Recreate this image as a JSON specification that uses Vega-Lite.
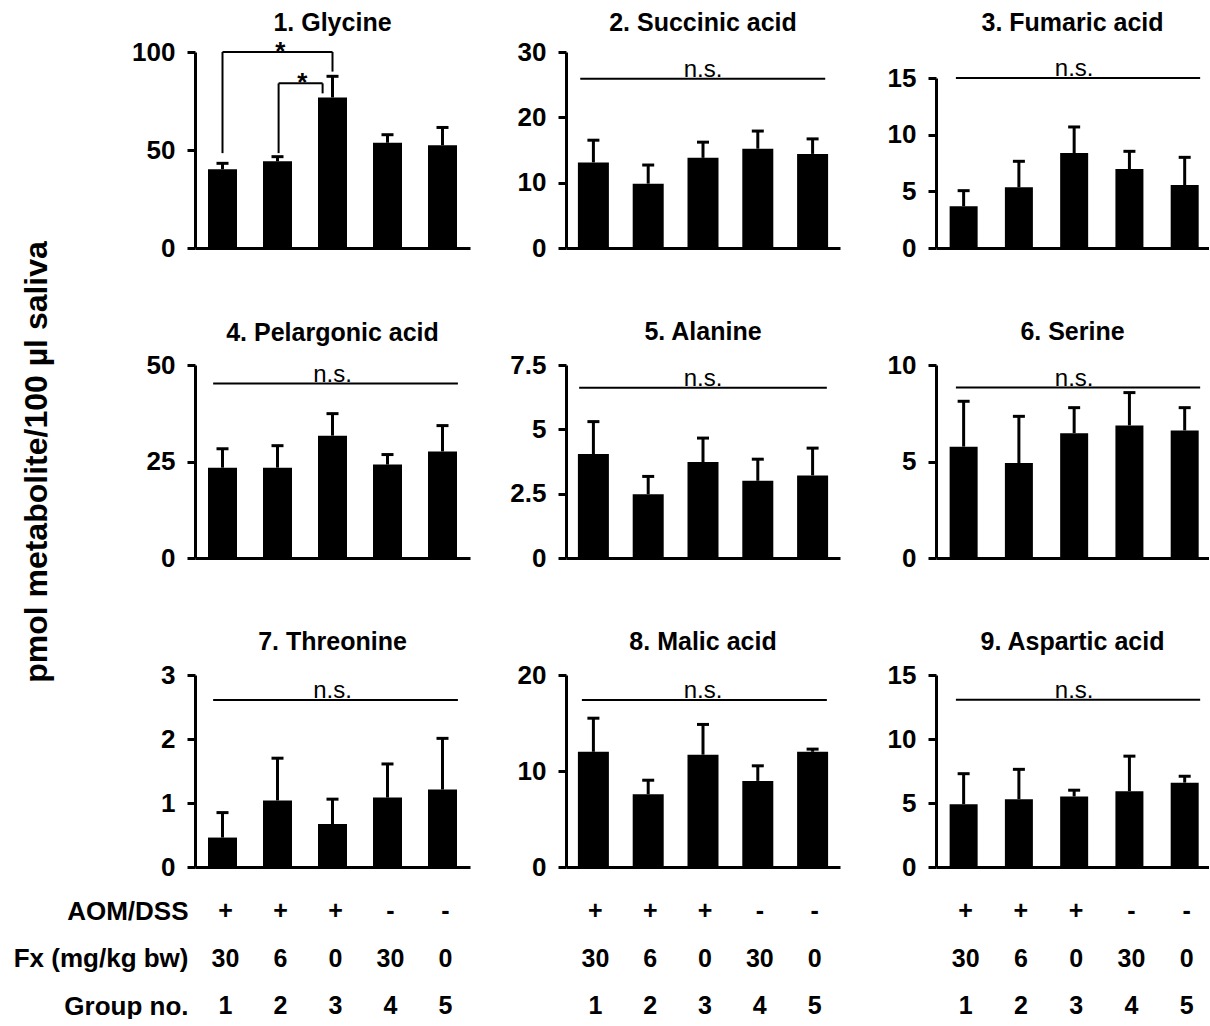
{
"$schema":"https://vega.github.io/schema/vega-lite/v6.json",
"background":"white",
"padding":{"left":13,"top":11,"right":0,"bottom":0},
"autosize":{"type":"pad"},
"datasets":{
"bars":[
{"panel":1,"group":1,"mean":40.2,"upper":43.2},{"panel":1,"group":2,"mean":44.2,"upper":46.6},{"panel":1,"group":3,"mean":76.8,"upper":87.6},{"panel":1,"group":4,"mean":53.7,"upper":57.8},{"panel":1,"group":5,"mean":52.4,"upper":61.5},
{"panel":2,"group":1,"mean":13.1,"upper":16.5},{"panel":2,"group":2,"mean":9.85,"upper":12.7},{"panel":2,"group":3,"mean":13.8,"upper":16.2},{"panel":2,"group":4,"mean":15.2,"upper":17.9},{"panel":2,"group":5,"mean":14.4,"upper":16.7},
{"panel":3,"group":1,"mean":3.68,"upper":5.06},{"panel":3,"group":2,"mean":5.35,"upper":7.65},{"panel":3,"group":3,"mean":8.38,"upper":10.68},{"panel":3,"group":4,"mean":6.97,"upper":8.53},{"panel":3,"group":5,"mean":5.56,"upper":8.0},
{"panel":4,"group":1,"mean":23.4,"upper":28.3},{"panel":4,"group":2,"mean":23.4,"upper":29.1},{"panel":4,"group":3,"mean":31.7,"upper":37.4},{"panel":4,"group":4,"mean":24.2,"upper":26.8},{"panel":4,"group":5,"mean":27.6,"upper":34.3},
{"panel":5,"group":1,"mean":4.04,"upper":5.3},{"panel":5,"group":2,"mean":2.48,"upper":3.17},{"panel":5,"group":3,"mean":3.73,"upper":4.66},{"panel":5,"group":4,"mean":3.0,"upper":3.84},{"panel":5,"group":5,"mean":3.21,"upper":4.27},
{"panel":6,"group":1,"mean":5.77,"upper":8.12},{"panel":6,"group":2,"mean":4.92,"upper":7.34},{"panel":6,"group":3,"mean":6.47,"upper":7.79},{"panel":6,"group":4,"mean":6.87,"upper":8.57},{"panel":6,"group":5,"mean":6.61,"upper":7.79},
{"panel":7,"group":1,"mean":0.46,"upper":0.85},{"panel":7,"group":2,"mean":1.04,"upper":1.7},{"panel":7,"group":3,"mean":0.67,"upper":1.06},{"panel":7,"group":4,"mean":1.085,"upper":1.61},{"panel":7,"group":5,"mean":1.21,"upper":2.01},
{"panel":8,"group":1,"mean":12.0,"upper":15.5},{"panel":8,"group":2,"mean":7.58,"upper":9.04},{"panel":8,"group":3,"mean":11.7,"upper":14.85},{"panel":8,"group":4,"mean":8.97,"upper":10.54},{"panel":8,"group":5,"mean":12.0,"upper":12.28},
{"panel":9,"group":1,"mean":4.91,"upper":7.29},{"panel":9,"group":2,"mean":5.3,"upper":7.63},{"panel":9,"group":3,"mean":5.51,"upper":6.0},{"panel":9,"group":4,"mean":5.92,"upper":8.66},{"panel":9,"group":5,"mean":6.59,"upper":7.09}
],
"lines":[
{"panel":1,"x1":1,"x2":3,"y1":100,"y2":100},
{"panel":1,"x1":1,"x2":1,"y1":48.4,"y2":100},
{"panel":1,"x1":3,"x2":3,"y1":90,"y2":100},
{"panel":1,"x1":2.02,"x2":2.82,"y1":84,"y2":84},
{"panel":1,"x1":2.02,"x2":2.02,"y1":48.4,"y2":84},
{"panel":1,"x1":2.82,"x2":2.82,"y1":78.9,"y2":84},
{"panel":2,"x1":0.76,"x2":5.23,"y1":25.9,"y2":25.9},
{"panel":3,"x1":0.86,"x2":5.28,"y1":15,"y2":15},
{"panel":4,"x1":0.83,"x2":5.28,"y1":45.2,"y2":45.2},
{"panel":5,"x1":0.74,"x2":5.26,"y1":6.62,"y2":6.62},
{"panel":6,"x1":0.86,"x2":5.28,"y1":8.83,"y2":8.83},
{"panel":7,"x1":0.83,"x2":5.28,"y1":2.61,"y2":2.61},
{"panel":8,"x1":0.79,"x2":5.26,"y1":17.4,"y2":17.4},
{"panel":9,"x1":0.86,"x2":5.28,"y1":13.06,"y2":13.06}
],
"labels":[
{"panel":1,"x":2.05,"y":100,"text":"*"},
{"panel":1,"x":2.45,"y":84,"text":"*"},
{"panel":2,"x":3,"y":25.9,"text":"n.s."},
{"panel":3,"x":3,"y":15,"text":"n.s."},
{"panel":4,"x":3,"y":45.2,"text":"n.s."},
{"panel":5,"x":3,"y":6.62,"text":"n.s."},
{"panel":6,"x":3,"y":8.83,"text":"n.s."},
{"panel":7,"x":3,"y":2.61,"text":"n.s."},
{"panel":8,"x":3,"y":17.4,"text":"n.s."},
{"panel":9,"x":3,"y":13.06,"text":"n.s."}
],
"conds":[
{"row":"AOM/DSS","group":1,"text":"+"},{"row":"AOM/DSS","group":2,"text":"+"},{"row":"AOM/DSS","group":3,"text":"+"},{"row":"AOM/DSS","group":4,"text":"-"},{"row":"AOM/DSS","group":5,"text":"-"},
{"row":"Fx (mg/kg bw)","group":1,"text":"30"},{"row":"Fx (mg/kg bw)","group":2,"text":"6"},{"row":"Fx (mg/kg bw)","group":3,"text":"0"},{"row":"Fx (mg/kg bw)","group":4,"text":"30"},{"row":"Fx (mg/kg bw)","group":5,"text":"0"},
{"row":"Group no.","group":1,"text":"1"},{"row":"Group no.","group":2,"text":"2"},{"row":"Group no.","group":3,"text":"3"},{"row":"Group no.","group":4,"text":"4"},{"row":"Group no.","group":5,"text":"5"}
]
},
"columns":3,
"spacing":{"row":117,"column":96},
"bounds":"flush",
"align":"each",
"concat":[
{"width":275,"height":196,"title":{"text":"1. Glycine","offset":3},"layer":[
{"data":{"name":"bars"},"transform":[{"filter":"datum.panel == 1"}],"mark":{"type":"bar","width":29,"color":"black"},"encoding":{"x":{"field":"group","type":"quantitative","scale":{"domain":[0.5,5.5],"nice":false,"zero":false,"padding":0},"axis":{"title":null,"labels":false,"ticks":false}},"y":{"field":"mean","type":"quantitative","scale":{"domain":[0,100],"nice":false},"axis":{"title":null,"values":[0,50,100],"format":".3~r"}}}},
{"data":{"name":"bars"},"transform":[{"filter":"datum.panel == 1"}],"mark":{"type":"rule","strokeWidth":3,"color":"black"},"encoding":{"x":{"field":"group","type":"quantitative","scale":{"domain":[0.5,5.5],"nice":false,"zero":false,"padding":0},"axis":{"title":null,"labels":false,"ticks":false}},"y":{"field":"mean","type":"quantitative","scale":{"domain":[0,100],"nice":false},"axis":{"title":null,"values":[0,50,100],"format":".3~r"}},"y2":{"field":"upper"}}},
{"data":{"name":"bars"},"transform":[{"filter":"datum.panel == 1"}],"mark":{"type":"tick","orient":"horizontal","size":12,"thickness":3,"color":"black","opacity":1},"encoding":{"x":{"field":"group","type":"quantitative","scale":{"domain":[0.5,5.5],"nice":false,"zero":false,"padding":0},"axis":{"title":null,"labels":false,"ticks":false}},"y":{"field":"upper","type":"quantitative","scale":{"domain":[0,100],"nice":false},"axis":{"title":null,"values":[0,50,100],"format":".3~r"}}}},
{"data":{"name":"lines"},"transform":[{"filter":"datum.panel == 1"}],"mark":{"type":"rule","strokeWidth":2,"color":"black"},"encoding":{"x":{"field":"x1","type":"quantitative","scale":{"domain":[0.5,5.5],"nice":false,"zero":false,"padding":0},"axis":{"title":null,"labels":false,"ticks":false}},"x2":{"field":"x2"},"y":{"field":"y1","type":"quantitative","scale":{"domain":[0,100],"nice":false},"axis":{"title":null,"values":[0,50,100],"format":".3~r"}},"y2":{"field":"y2"}}},
{"data":{"name":"labels"},"transform":[{"filter":"datum.panel == 1"}],"mark":{"type":"text","fontSize":26,"fontWeight":"bold","baseline":"middle"},"encoding":{"x":{"field":"x","type":"quantitative","scale":{"domain":[0.5,5.5],"nice":false,"zero":false,"padding":0},"axis":{"title":null,"labels":false,"ticks":false}},"y":{"field":"y","type":"quantitative","scale":{"domain":[0,100],"nice":false},"axis":{"title":null,"values":[0,50,100],"format":".3~r"}},"text":{"field":"text"}}}
]},
{"width":274,"height":196,"title":{"text":"2. Succinic acid","offset":3},"layer":[
{"data":{"name":"bars"},"transform":[{"filter":"datum.panel == 2"}],"mark":{"type":"bar","width":31,"color":"black"},"encoding":{"x":{"field":"group","type":"quantitative","scale":{"domain":[0.5,5.5],"nice":false,"zero":false,"padding":0},"axis":{"title":null,"labels":false,"ticks":false}},"y":{"field":"mean","type":"quantitative","scale":{"domain":[0,30],"nice":false},"axis":{"title":null,"values":[0,10,20,30],"format":".3~r"}}}},
{"data":{"name":"bars"},"transform":[{"filter":"datum.panel == 2"}],"mark":{"type":"rule","strokeWidth":3,"color":"black"},"encoding":{"x":{"field":"group","type":"quantitative","scale":{"domain":[0.5,5.5],"nice":false,"zero":false,"padding":0},"axis":{"title":null,"labels":false,"ticks":false}},"y":{"field":"mean","type":"quantitative","scale":{"domain":[0,30],"nice":false},"axis":{"title":null,"values":[0,10,20,30],"format":".3~r"}},"y2":{"field":"upper"}}},
{"data":{"name":"bars"},"transform":[{"filter":"datum.panel == 2"}],"mark":{"type":"tick","orient":"horizontal","size":12,"thickness":3,"color":"black","opacity":1},"encoding":{"x":{"field":"group","type":"quantitative","scale":{"domain":[0.5,5.5],"nice":false,"zero":false,"padding":0},"axis":{"title":null,"labels":false,"ticks":false}},"y":{"field":"upper","type":"quantitative","scale":{"domain":[0,30],"nice":false},"axis":{"title":null,"values":[0,10,20,30],"format":".3~r"}}}},
{"data":{"name":"lines"},"transform":[{"filter":"datum.panel == 2"}],"mark":{"type":"rule","strokeWidth":2,"color":"black"},"encoding":{"x":{"field":"x1","type":"quantitative","scale":{"domain":[0.5,5.5],"nice":false,"zero":false,"padding":0},"axis":{"title":null,"labels":false,"ticks":false}},"x2":{"field":"x2"},"y":{"field":"y1","type":"quantitative","scale":{"domain":[0,30],"nice":false},"axis":{"title":null,"values":[0,10,20,30],"format":".3~r"}},"y2":{"field":"y2"}}},
{"data":{"name":"labels"},"transform":[{"filter":"datum.panel == 2"}],"mark":{"type":"text","fontSize":24,"baseline":"alphabetic","dy":-2},"encoding":{"x":{"field":"x","type":"quantitative","scale":{"domain":[0.5,5.5],"nice":false,"zero":false,"padding":0},"axis":{"title":null,"labels":false,"ticks":false}},"y":{"field":"y","type":"quantitative","scale":{"domain":[0,30],"nice":false},"axis":{"title":null,"values":[0,10,20,30],"format":".3~r"}},"text":{"field":"text"}}}
]},
{"width":273,"height":196,"title":{"text":"3. Fumaric acid","offset":16},"layer":[
{"data":{"name":"bars"},"transform":[{"filter":"datum.panel == 3"}],"mark":{"type":"bar","width":28,"color":"black"},"encoding":{"x":{"field":"group","type":"quantitative","scale":{"domain":[0.5,5.44],"nice":false,"zero":false,"padding":0},"axis":{"title":null,"labels":false,"ticks":false}},"y":{"field":"mean","type":"quantitative","scale":{"domain":[0,15],"nice":false,"range":[196,26]},"axis":{"title":null,"values":[0,5,10,15],"format":".3~r"}}}},
{"data":{"name":"bars"},"transform":[{"filter":"datum.panel == 3"}],"mark":{"type":"rule","strokeWidth":3,"color":"black"},"encoding":{"x":{"field":"group","type":"quantitative","scale":{"domain":[0.5,5.44],"nice":false,"zero":false,"padding":0},"axis":{"title":null,"labels":false,"ticks":false}},"y":{"field":"mean","type":"quantitative","scale":{"domain":[0,15],"nice":false,"range":[196,26]},"axis":{"title":null,"values":[0,5,10,15],"format":".3~r"}},"y2":{"field":"upper"}}},
{"data":{"name":"bars"},"transform":[{"filter":"datum.panel == 3"}],"mark":{"type":"tick","orient":"horizontal","size":12,"thickness":3,"color":"black","opacity":1},"encoding":{"x":{"field":"group","type":"quantitative","scale":{"domain":[0.5,5.44],"nice":false,"zero":false,"padding":0},"axis":{"title":null,"labels":false,"ticks":false}},"y":{"field":"upper","type":"quantitative","scale":{"domain":[0,15],"nice":false,"range":[196,26]},"axis":{"title":null,"values":[0,5,10,15],"format":".3~r"}}}},
{"data":{"name":"lines"},"transform":[{"filter":"datum.panel == 3"}],"mark":{"type":"rule","strokeWidth":2,"color":"black"},"encoding":{"x":{"field":"x1","type":"quantitative","scale":{"domain":[0.5,5.44],"nice":false,"zero":false,"padding":0},"axis":{"title":null,"labels":false,"ticks":false}},"x2":{"field":"x2"},"y":{"field":"y1","type":"quantitative","scale":{"domain":[0,15],"nice":false,"range":[196,26]},"axis":{"title":null,"values":[0,5,10,15],"format":".3~r"}},"y2":{"field":"y2"}}},
{"data":{"name":"labels"},"transform":[{"filter":"datum.panel == 3"}],"mark":{"type":"text","fontSize":24,"baseline":"alphabetic","dy":-2},"encoding":{"x":{"field":"x","type":"quantitative","scale":{"domain":[0.5,5.44],"nice":false,"zero":false,"padding":0},"axis":{"title":null,"labels":false,"ticks":false}},"y":{"field":"y","type":"quantitative","scale":{"domain":[0,15],"nice":false,"range":[196,26]},"axis":{"title":null,"values":[0,5,10,15],"format":".3~r"}},"text":{"field":"text"}}}
]},
{"width":275,"height":193,"title":{"text":"4. Pelargonic acid","offset":-105},"layer":[
{"data":{"name":"bars"},"transform":[{"filter":"datum.panel == 4"}],"mark":{"type":"bar","width":29,"color":"black"},"encoding":{"x":{"field":"group","type":"quantitative","scale":{"domain":[0.5,5.5],"nice":false,"zero":false,"padding":0},"axis":{"title":null,"labels":false,"ticks":false}},"y":{"field":"mean","type":"quantitative","scale":{"domain":[0,50],"nice":false},"axis":{"title":"pmol metabolite/100 µl saliva","titlePadding":93,"values":[0,25,50],"format":".3~r"}}}},
{"data":{"name":"bars"},"transform":[{"filter":"datum.panel == 4"}],"mark":{"type":"rule","strokeWidth":3,"color":"black"},"encoding":{"x":{"field":"group","type":"quantitative","scale":{"domain":[0.5,5.5],"nice":false,"zero":false,"padding":0},"axis":{"title":null,"labels":false,"ticks":false}},"y":{"field":"mean","type":"quantitative","scale":{"domain":[0,50],"nice":false},"axis":{"title":"pmol metabolite/100 µl saliva","titlePadding":93,"values":[0,25,50],"format":".3~r"}},"y2":{"field":"upper"}}},
{"data":{"name":"bars"},"transform":[{"filter":"datum.panel == 4"}],"mark":{"type":"tick","orient":"horizontal","size":12,"thickness":3,"color":"black","opacity":1},"encoding":{"x":{"field":"group","type":"quantitative","scale":{"domain":[0.5,5.5],"nice":false,"zero":false,"padding":0},"axis":{"title":null,"labels":false,"ticks":false}},"y":{"field":"upper","type":"quantitative","scale":{"domain":[0,50],"nice":false},"axis":{"title":"pmol metabolite/100 µl saliva","titlePadding":93,"values":[0,25,50],"format":".3~r"}}}},
{"data":{"name":"lines"},"transform":[{"filter":"datum.panel == 4"}],"mark":{"type":"rule","strokeWidth":2,"color":"black"},"encoding":{"x":{"field":"x1","type":"quantitative","scale":{"domain":[0.5,5.5],"nice":false,"zero":false,"padding":0},"axis":{"title":null,"labels":false,"ticks":false}},"x2":{"field":"x2"},"y":{"field":"y1","type":"quantitative","scale":{"domain":[0,50],"nice":false},"axis":{"title":"pmol metabolite/100 µl saliva","titlePadding":93,"values":[0,25,50],"format":".3~r"}},"y2":{"field":"y2"}}},
{"data":{"name":"labels"},"transform":[{"filter":"datum.panel == 4"}],"mark":{"type":"text","fontSize":24,"baseline":"alphabetic","dy":-2},"encoding":{"x":{"field":"x","type":"quantitative","scale":{"domain":[0.5,5.5],"nice":false,"zero":false,"padding":0},"axis":{"title":null,"labels":false,"ticks":false}},"y":{"field":"y","type":"quantitative","scale":{"domain":[0,50],"nice":false},"axis":{"title":"pmol metabolite/100 µl saliva","titlePadding":93,"values":[0,25,50],"format":".3~r"}},"text":{"field":"text"}}}
]},
{"width":274,"height":193,"title":{"text":"5. Alanine"},"layer":[
{"data":{"name":"bars"},"transform":[{"filter":"datum.panel == 5"}],"mark":{"type":"bar","width":31,"color":"black"},"encoding":{"x":{"field":"group","type":"quantitative","scale":{"domain":[0.5,5.5],"nice":false,"zero":false,"padding":0},"axis":{"title":null,"labels":false,"ticks":false}},"y":{"field":"mean","type":"quantitative","scale":{"domain":[0,7.5],"nice":false},"axis":{"title":null,"values":[0,2.5,5,7.5],"format":".3~r"}}}},
{"data":{"name":"bars"},"transform":[{"filter":"datum.panel == 5"}],"mark":{"type":"rule","strokeWidth":3,"color":"black"},"encoding":{"x":{"field":"group","type":"quantitative","scale":{"domain":[0.5,5.5],"nice":false,"zero":false,"padding":0},"axis":{"title":null,"labels":false,"ticks":false}},"y":{"field":"mean","type":"quantitative","scale":{"domain":[0,7.5],"nice":false},"axis":{"title":null,"values":[0,2.5,5,7.5],"format":".3~r"}},"y2":{"field":"upper"}}},
{"data":{"name":"bars"},"transform":[{"filter":"datum.panel == 5"}],"mark":{"type":"tick","orient":"horizontal","size":12,"thickness":3,"color":"black","opacity":1},"encoding":{"x":{"field":"group","type":"quantitative","scale":{"domain":[0.5,5.5],"nice":false,"zero":false,"padding":0},"axis":{"title":null,"labels":false,"ticks":false}},"y":{"field":"upper","type":"quantitative","scale":{"domain":[0,7.5],"nice":false},"axis":{"title":null,"values":[0,2.5,5,7.5],"format":".3~r"}}}},
{"data":{"name":"lines"},"transform":[{"filter":"datum.panel == 5"}],"mark":{"type":"rule","strokeWidth":2,"color":"black"},"encoding":{"x":{"field":"x1","type":"quantitative","scale":{"domain":[0.5,5.5],"nice":false,"zero":false,"padding":0},"axis":{"title":null,"labels":false,"ticks":false}},"x2":{"field":"x2"},"y":{"field":"y1","type":"quantitative","scale":{"domain":[0,7.5],"nice":false},"axis":{"title":null,"values":[0,2.5,5,7.5],"format":".3~r"}},"y2":{"field":"y2"}}},
{"data":{"name":"labels"},"transform":[{"filter":"datum.panel == 5"}],"mark":{"type":"text","fontSize":24,"baseline":"alphabetic","dy":-2},"encoding":{"x":{"field":"x","type":"quantitative","scale":{"domain":[0.5,5.5],"nice":false,"zero":false,"padding":0},"axis":{"title":null,"labels":false,"ticks":false}},"y":{"field":"y","type":"quantitative","scale":{"domain":[0,7.5],"nice":false},"axis":{"title":null,"values":[0,2.5,5,7.5],"format":".3~r"}},"text":{"field":"text"}}}
]},
{"width":273,"height":193,"title":{"text":"6. Serine"},"layer":[
{"data":{"name":"bars"},"transform":[{"filter":"datum.panel == 6"}],"mark":{"type":"bar","width":28,"color":"black"},"encoding":{"x":{"field":"group","type":"quantitative","scale":{"domain":[0.5,5.44],"nice":false,"zero":false,"padding":0},"axis":{"title":null,"labels":false,"ticks":false}},"y":{"field":"mean","type":"quantitative","scale":{"domain":[0,10],"nice":false},"axis":{"title":null,"values":[0,5,10],"format":".3~r"}}}},
{"data":{"name":"bars"},"transform":[{"filter":"datum.panel == 6"}],"mark":{"type":"rule","strokeWidth":3,"color":"black"},"encoding":{"x":{"field":"group","type":"quantitative","scale":{"domain":[0.5,5.44],"nice":false,"zero":false,"padding":0},"axis":{"title":null,"labels":false,"ticks":false}},"y":{"field":"mean","type":"quantitative","scale":{"domain":[0,10],"nice":false},"axis":{"title":null,"values":[0,5,10],"format":".3~r"}},"y2":{"field":"upper"}}},
{"data":{"name":"bars"},"transform":[{"filter":"datum.panel == 6"}],"mark":{"type":"tick","orient":"horizontal","size":12,"thickness":3,"color":"black","opacity":1},"encoding":{"x":{"field":"group","type":"quantitative","scale":{"domain":[0.5,5.44],"nice":false,"zero":false,"padding":0},"axis":{"title":null,"labels":false,"ticks":false}},"y":{"field":"upper","type":"quantitative","scale":{"domain":[0,10],"nice":false},"axis":{"title":null,"values":[0,5,10],"format":".3~r"}}}},
{"data":{"name":"lines"},"transform":[{"filter":"datum.panel == 6"}],"mark":{"type":"rule","strokeWidth":2,"color":"black"},"encoding":{"x":{"field":"x1","type":"quantitative","scale":{"domain":[0.5,5.44],"nice":false,"zero":false,"padding":0},"axis":{"title":null,"labels":false,"ticks":false}},"x2":{"field":"x2"},"y":{"field":"y1","type":"quantitative","scale":{"domain":[0,10],"nice":false},"axis":{"title":null,"values":[0,5,10],"format":".3~r"}},"y2":{"field":"y2"}}},
{"data":{"name":"labels"},"transform":[{"filter":"datum.panel == 6"}],"mark":{"type":"text","fontSize":24,"baseline":"alphabetic","dy":-2},"encoding":{"x":{"field":"x","type":"quantitative","scale":{"domain":[0.5,5.44],"nice":false,"zero":false,"padding":0},"axis":{"title":null,"labels":false,"ticks":false}},"y":{"field":"y","type":"quantitative","scale":{"domain":[0,10],"nice":false},"axis":{"title":null,"values":[0,5,10],"format":".3~r"}},"text":{"field":"text"}}}
]},
{"width":275,"height":192,"title":{"text":"7. Threonine"},"layer":[
{"layer":[
{"data":{"name":"bars"},"transform":[{"filter":"datum.panel == 7"}],"mark":{"type":"bar","width":29,"color":"black"},"encoding":{"x":{"field":"group","type":"quantitative","scale":{"domain":[0.5,5.5],"nice":false,"zero":false,"padding":0},"axis":{"title":null,"labels":false,"ticks":false}},"y":{"field":"mean","type":"quantitative","scale":{"domain":[0,3],"nice":false},"axis":{"title":null,"values":[0,1,2,3],"format":".3~r"}}}},
{"data":{"name":"bars"},"transform":[{"filter":"datum.panel == 7"}],"mark":{"type":"rule","strokeWidth":3,"color":"black"},"encoding":{"x":{"field":"group","type":"quantitative","scale":{"domain":[0.5,5.5],"nice":false,"zero":false,"padding":0},"axis":{"title":null,"labels":false,"ticks":false}},"y":{"field":"mean","type":"quantitative","scale":{"domain":[0,3],"nice":false},"axis":{"title":null,"values":[0,1,2,3],"format":".3~r"}},"y2":{"field":"upper"}}},
{"data":{"name":"bars"},"transform":[{"filter":"datum.panel == 7"}],"mark":{"type":"tick","orient":"horizontal","size":12,"thickness":3,"color":"black","opacity":1},"encoding":{"x":{"field":"group","type":"quantitative","scale":{"domain":[0.5,5.5],"nice":false,"zero":false,"padding":0},"axis":{"title":null,"labels":false,"ticks":false}},"y":{"field":"upper","type":"quantitative","scale":{"domain":[0,3],"nice":false},"axis":{"title":null,"values":[0,1,2,3],"format":".3~r"}}}},
{"data":{"name":"lines"},"transform":[{"filter":"datum.panel == 7"}],"mark":{"type":"rule","strokeWidth":2,"color":"black"},"encoding":{"x":{"field":"x1","type":"quantitative","scale":{"domain":[0.5,5.5],"nice":false,"zero":false,"padding":0},"axis":{"title":null,"labels":false,"ticks":false}},"x2":{"field":"x2"},"y":{"field":"y1","type":"quantitative","scale":{"domain":[0,3],"nice":false},"axis":{"title":null,"values":[0,1,2,3],"format":".3~r"}},"y2":{"field":"y2"}}},
{"data":{"name":"labels"},"transform":[{"filter":"datum.panel == 7"}],"mark":{"type":"text","fontSize":24,"baseline":"alphabetic","dy":-2},"encoding":{"x":{"field":"x","type":"quantitative","scale":{"domain":[0.5,5.5],"nice":false,"zero":false,"padding":0},"axis":{"title":null,"labels":false,"ticks":false}},"y":{"field":"y","type":"quantitative","scale":{"domain":[0,3],"nice":false},"axis":{"title":null,"values":[0,1,2,3],"format":".3~r"}},"text":{"field":"text"}}}
]},
{"data":{"name":"conds"},"mark":{"type":"text","fontSize":25,"fontWeight":"bold","baseline":"middle","dx":3},"encoding":{"x":{"field":"group","type":"quantitative","scale":{"domain":[0.5,5.5],"nice":false,"zero":false,"padding":0},"axis":{"title":null,"labels":false,"ticks":false}},"y":{"field":"row","type":"ordinal","scale":{"type":"point","domain":["AOM/DSS","Fx (mg/kg bw)","Group no."],"range":[236,331],"padding":0},"axis":{"orient":"left","title":null,"domain":false,"ticks":false,"tickSize":0,"labelPadding":7}},"text":{"field":"text"}}}
],"resolve":{"scale":{"y":"independent"},"axis":{"y":"independent"}}},
{"width":274,"height":192,"title":{"text":"8. Malic acid"},"layer":[
{"layer":[
{"data":{"name":"bars"},"transform":[{"filter":"datum.panel == 8"}],"mark":{"type":"bar","width":31,"color":"black"},"encoding":{"x":{"field":"group","type":"quantitative","scale":{"domain":[0.5,5.5],"nice":false,"zero":false,"padding":0},"axis":{"title":null,"labels":false,"ticks":false}},"y":{"field":"mean","type":"quantitative","scale":{"domain":[0,20],"nice":false},"axis":{"title":null,"values":[0,10,20],"format":".3~r"}}}},
{"data":{"name":"bars"},"transform":[{"filter":"datum.panel == 8"}],"mark":{"type":"rule","strokeWidth":3,"color":"black"},"encoding":{"x":{"field":"group","type":"quantitative","scale":{"domain":[0.5,5.5],"nice":false,"zero":false,"padding":0},"axis":{"title":null,"labels":false,"ticks":false}},"y":{"field":"mean","type":"quantitative","scale":{"domain":[0,20],"nice":false},"axis":{"title":null,"values":[0,10,20],"format":".3~r"}},"y2":{"field":"upper"}}},
{"data":{"name":"bars"},"transform":[{"filter":"datum.panel == 8"}],"mark":{"type":"tick","orient":"horizontal","size":12,"thickness":3,"color":"black","opacity":1},"encoding":{"x":{"field":"group","type":"quantitative","scale":{"domain":[0.5,5.5],"nice":false,"zero":false,"padding":0},"axis":{"title":null,"labels":false,"ticks":false}},"y":{"field":"upper","type":"quantitative","scale":{"domain":[0,20],"nice":false},"axis":{"title":null,"values":[0,10,20],"format":".3~r"}}}},
{"data":{"name":"lines"},"transform":[{"filter":"datum.panel == 8"}],"mark":{"type":"rule","strokeWidth":2,"color":"black"},"encoding":{"x":{"field":"x1","type":"quantitative","scale":{"domain":[0.5,5.5],"nice":false,"zero":false,"padding":0},"axis":{"title":null,"labels":false,"ticks":false}},"x2":{"field":"x2"},"y":{"field":"y1","type":"quantitative","scale":{"domain":[0,20],"nice":false},"axis":{"title":null,"values":[0,10,20],"format":".3~r"}},"y2":{"field":"y2"}}},
{"data":{"name":"labels"},"transform":[{"filter":"datum.panel == 8"}],"mark":{"type":"text","fontSize":24,"baseline":"alphabetic","dy":-2},"encoding":{"x":{"field":"x","type":"quantitative","scale":{"domain":[0.5,5.5],"nice":false,"zero":false,"padding":0},"axis":{"title":null,"labels":false,"ticks":false}},"y":{"field":"y","type":"quantitative","scale":{"domain":[0,20],"nice":false},"axis":{"title":null,"values":[0,10,20],"format":".3~r"}},"text":{"field":"text"}}}
]},
{"data":{"name":"conds"},"mark":{"type":"text","fontSize":25,"fontWeight":"bold","baseline":"middle","dx":2},"encoding":{"x":{"field":"group","type":"quantitative","scale":{"domain":[0.5,5.5],"nice":false,"zero":false,"padding":0},"axis":{"title":null,"labels":false,"ticks":false}},"y":{"field":"row","type":"ordinal","scale":{"type":"point","domain":["AOM/DSS","Fx (mg/kg bw)","Group no."],"range":[236,331],"padding":0},"axis":null},"text":{"field":"text"}}}
],"resolve":{"scale":{"y":"independent"},"axis":{"y":"independent"}}},
{"width":273,"height":192,"title":{"text":"9. Aspartic acid"},"layer":[
{"layer":[
{"data":{"name":"bars"},"transform":[{"filter":"datum.panel == 9"}],"mark":{"type":"bar","width":28,"color":"black"},"encoding":{"x":{"field":"group","type":"quantitative","scale":{"domain":[0.5,5.44],"nice":false,"zero":false,"padding":0},"axis":{"title":null,"labels":false,"ticks":false}},"y":{"field":"mean","type":"quantitative","scale":{"domain":[0,15],"nice":false},"axis":{"title":null,"values":[0,5,10,15],"format":".3~r"}}}},
{"data":{"name":"bars"},"transform":[{"filter":"datum.panel == 9"}],"mark":{"type":"rule","strokeWidth":3,"color":"black"},"encoding":{"x":{"field":"group","type":"quantitative","scale":{"domain":[0.5,5.44],"nice":false,"zero":false,"padding":0},"axis":{"title":null,"labels":false,"ticks":false}},"y":{"field":"mean","type":"quantitative","scale":{"domain":[0,15],"nice":false},"axis":{"title":null,"values":[0,5,10,15],"format":".3~r"}},"y2":{"field":"upper"}}},
{"data":{"name":"bars"},"transform":[{"filter":"datum.panel == 9"}],"mark":{"type":"tick","orient":"horizontal","size":12,"thickness":3,"color":"black","opacity":1},"encoding":{"x":{"field":"group","type":"quantitative","scale":{"domain":[0.5,5.44],"nice":false,"zero":false,"padding":0},"axis":{"title":null,"labels":false,"ticks":false}},"y":{"field":"upper","type":"quantitative","scale":{"domain":[0,15],"nice":false},"axis":{"title":null,"values":[0,5,10,15],"format":".3~r"}}}},
{"data":{"name":"lines"},"transform":[{"filter":"datum.panel == 9"}],"mark":{"type":"rule","strokeWidth":2,"color":"black"},"encoding":{"x":{"field":"x1","type":"quantitative","scale":{"domain":[0.5,5.44],"nice":false,"zero":false,"padding":0},"axis":{"title":null,"labels":false,"ticks":false}},"x2":{"field":"x2"},"y":{"field":"y1","type":"quantitative","scale":{"domain":[0,15],"nice":false},"axis":{"title":null,"values":[0,5,10,15],"format":".3~r"}},"y2":{"field":"y2"}}},
{"data":{"name":"labels"},"transform":[{"filter":"datum.panel == 9"}],"mark":{"type":"text","fontSize":24,"baseline":"alphabetic","dy":-2},"encoding":{"x":{"field":"x","type":"quantitative","scale":{"domain":[0.5,5.44],"nice":false,"zero":false,"padding":0},"axis":{"title":null,"labels":false,"ticks":false}},"y":{"field":"y","type":"quantitative","scale":{"domain":[0,15],"nice":false},"axis":{"title":null,"values":[0,5,10,15],"format":".3~r"}},"text":{"field":"text"}}}
]},
{"data":{"name":"conds"},"mark":{"type":"text","fontSize":25,"fontWeight":"bold","baseline":"middle","dx":2},"encoding":{"x":{"field":"group","type":"quantitative","scale":{"domain":[0.5,5.44],"nice":false,"zero":false,"padding":0},"axis":{"title":null,"labels":false,"ticks":false}},"y":{"field":"row","type":"ordinal","scale":{"type":"point","domain":["AOM/DSS","Fx (mg/kg bw)","Group no."],"range":[236,331],"padding":0},"axis":null},"text":{"field":"text"}}}
],"resolve":{"scale":{"y":"independent"},"axis":{"y":"independent"}}}
],
"config":{
"font":"Liberation Sans",
"view":{"stroke":null},
"scale":{"continuousPadding":0},
"axis":{"grid":false,"domainColor":"black","domainWidth":3,"tickColor":"black","tickWidth":3,"tickSize":8,"labelFont":"Liberation Sans","labelFontSize":26,"labelFontWeight":"bold","labelColor":"black","labelPadding":12,"titleFont":"Liberation Sans","titleFontSize":32,"titleFontWeight":"bold","titleColor":"black"},
"title":{"font":"Liberation Sans","fontSize":25,"fontWeight":"bold","color":"black","baseline":"alphabetic","offset":7,"frame":"group","anchor":"middle"},
"text":{"font":"Liberation Sans","color":"black"}
}
}
